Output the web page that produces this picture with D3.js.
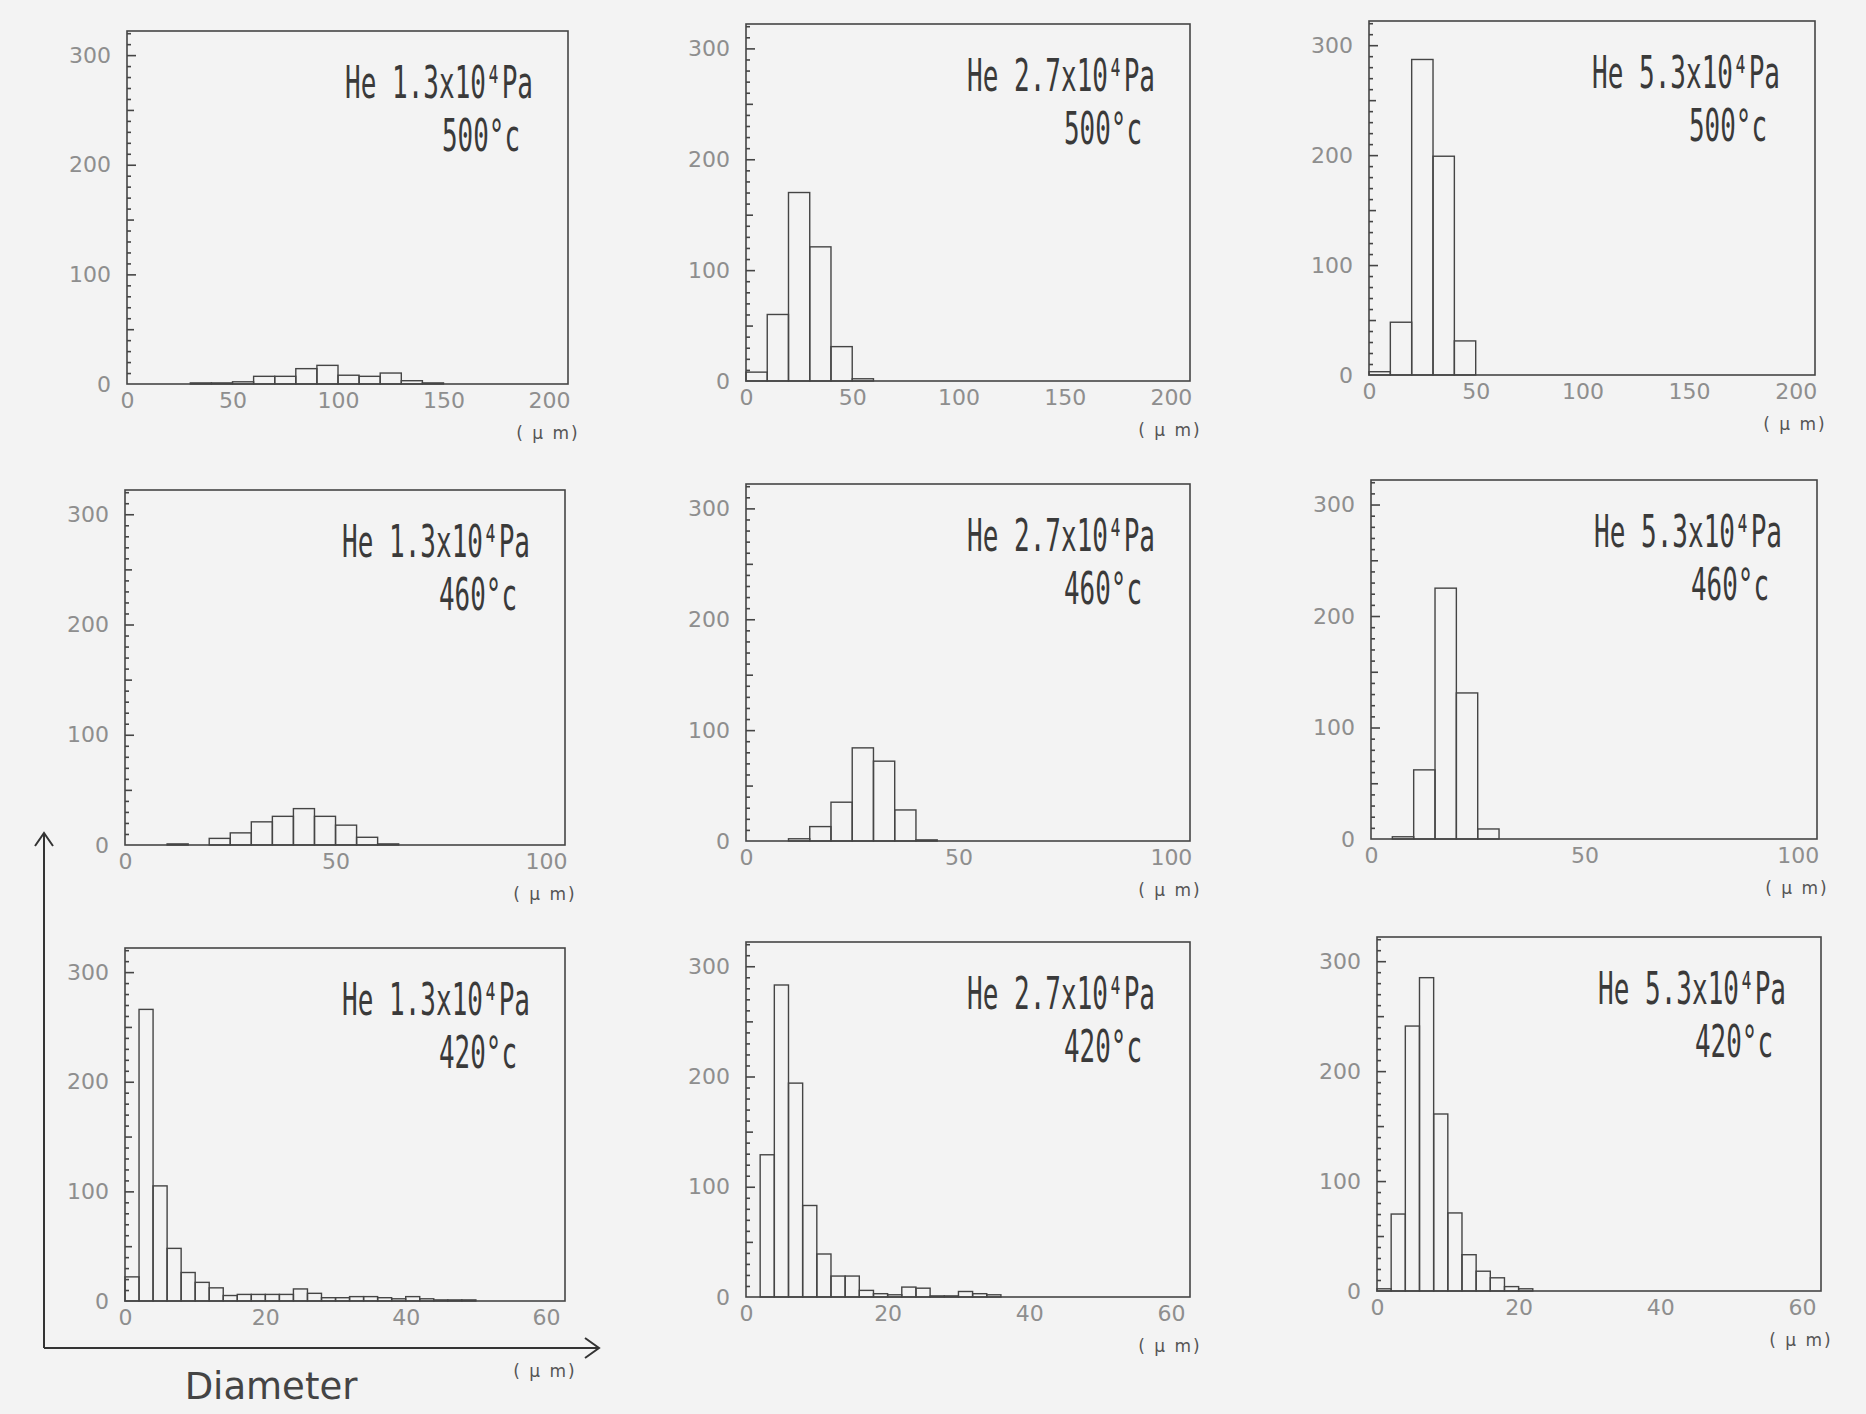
<!DOCTYPE html>
<html><head><meta charset="utf-8">
<script src="https://cdn.jsdelivr.net/npm/d3@7"></script>
<style>body{margin:0;background:#f3f3f3;} svg{display:block}</style>
</head><body><svg id="c" width="1866" height="1414"></svg>
<script>
// ---------- data ----------
const pressures = ["1.3", "2.7", "5.3"];           // columns (x10^4 Pa)
const temperatures = ["500", "460", "420"];         // rows (deg C)
const binWidths = [10, 5, 2];                       // um, per row
const xMaxes = [200, 100, 60];                      // um, per row
const xTickSets = [[0, 50, 100, 150, 200], [0, 50, 100], [0, 20, 40, 60]];
const yTickLabels = [0, 100, 200, 300];
const yMax = 322;

// counts per bin, starting at 0 um
const counts_500_13 = [0,0,0,1,1,2,7,7,14,17,8,7,10,3,1,0,0,0,0,0];
const counts_500_27 = [8,60,170,121,31,2,0,0,0,0,0,0,0,0,0,0,0,0,0,0];
const counts_500_53 = [3,48,287,199,31,0,0,0,0,0,0,0,0,0,0,0,0,0,0,0];
const counts_460_13 = [0,0,1,0,6,11,21,26,33,26,18,7,1,0,0,0,0,0,0,0];
const counts_460_27 = [0,0,2,13,35,84,72,28,1,0,0,0,0,0,0,0,0,0,0,0];
const counts_460_53 = [0,2,62,225,131,9,0,0,0,0,0,0,0,0,0,0,0,0,0,0];
const counts_420_13 = [22,266,105,48,26,17,12,5,6,6,6,6,11,7,3,3,4,4,3,2,4,2,1,1,1,0,0,0,0,0];
const counts_420_27 = [0,129,283,194,83,39,19,19,6,3,2,9,8,1,1,5,3,2,0,0,0,0,0,0,0,0,0,0,0,0];
const counts_420_53 = [2,70,241,285,161,71,33,18,12,4,2,0,0,0,0,0,0,0,0,0,0,0,0,0,0,0,0,0,0,0];

const countGrid = [
  [counts_500_13, counts_500_27, counts_500_53],
  [counts_460_13, counts_460_27, counts_460_53],
  [counts_420_13, counts_420_27, counts_420_53]
];

// ---------- layout ----------
const boxes = [
  [{L:127,T:31,W:441,H:353},{L:746,T:24,W:444,H:357},{L:1369,T:21,W:446,H:354}],
  [{L:125,T:490,W:440,H:355},{L:746,T:484,W:444,H:357},{L:1371,T:480,W:446,H:359}],
  [{L:125,T:948,W:440,H:353},{L:746,T:942,W:444,H:355},{L:1377,T:937,W:444,H:354}]
];
const inkText = "#3a3a3a", inkLine = "#454545", inkTick = "#8e8e8e";
const annFont = "DejaVu Sans Mono";

const svg = d3.select("#c");
svg.append("rect").attr("width",1866).attr("height",1414).attr("fill","#f3f3f3");

function condensed(g, x, y, width, str) {
  const t = g.append("text").attr("text-anchor", "end")
    .attr("font-family", annFont).attr("font-size", 44.5).attr("fill", inkText).text(str);
  const len = t.node().getComputedTextLength();
  t.attr("transform", `translate(${x},${y}) scale(${width / len},1)`);
  return t;
}

temperatures.forEach((temp, r) => {
  pressures.forEach((pres, c) => {
    const b = boxes[r][c];
    const counts = countGrid[r][c];
    const bw = binWidths[r];
    const g = svg.append("g").attr("transform", `translate(${b.L},${b.T})`);
    const x = d3.scaleLinear().domain([0, xMaxes[r] * 1.045]).range([0, b.W]);
    const y = d3.scaleLinear().domain([0, yMax]).range([b.H, 0]);

    // bars
    const bins = counts.map((v, i) => ({x0: i * bw, x1: (i + 1) * bw, v})).filter(d => d.v > 0);
    g.selectAll("rect.bar").data(bins).join("rect").attr("class","bar")
      .attr("x", d => x(d.x0)).attr("y", d => y(d.v))
      .attr("width", d => x(d.x1) - x(d.x0)).attr("height", d => y(0) - y(d.v))
      .attr("fill", "none").attr("stroke", inkLine).attr("stroke-width", 1.4);

    // frame
    g.append("rect").attr("width", b.W).attr("height", b.H)
      .attr("fill", "none").attr("stroke", inkLine).attr("stroke-width", 1.6);

    // y ticks (inward), minor / medium / major
    const all = d3.range(0, yMax, 10);
    const tickGroups = [
      {vals: all.filter(v => v % 50 !== 0), len: 4},
      {vals: all.filter(v => v % 50 === 0 && v % 100 !== 0), len: 7},
      {vals: all.filter(v => v % 100 === 0 && v > 0), len: 9}
    ];
    tickGroups.forEach(tg => {
      const ax = g.append("g").call(d3.axisRight(y).tickValues(tg.vals).tickSize(tg.len).tickFormat(""));
      ax.select(".domain").remove();
      ax.selectAll("line").attr("stroke", inkLine).attr("stroke-width", 1.6);
    });

    // y labels
    const yl = g.append("g").call(d3.axisLeft(y).tickValues(yTickLabels).tickSize(0).tickPadding(16));
    yl.select(".domain").remove();
    yl.selectAll("text").attr("font-family", "DejaVu Sans").attr("font-size", 22).attr("fill", inkTick);

    // x labels
    const xl = g.append("g").attr("transform", `translate(0,${b.H})`)
      .call(d3.axisBottom(x).tickValues(xTickSets[r]).tickSize(0).tickPadding(8));
    xl.select(".domain").remove();
    xl.selectAll("text").attr("font-family", "DejaVu Sans").attr("font-size", 22).attr("fill", inkTick);

    // unit
    g.append("text").attr("x", b.W - 20).attr("y", b.H + (r === 2 && c === 0 ? 76 : 55))
      .attr("text-anchor", "middle").attr("font-family", "DejaVu Sans").attr("font-size", 17)
      .attr("letter-spacing", 2).attr("fill", "#555").text("( µ m)");

    // annotation
    condensed(g, b.W - 35, 67, 188, `He ${pres}x10⁴Pa`);
    condensed(g, b.W - 48, 120, 78, `${temp}°c`);
  });
});

// big axis arrows
const arrow = svg.append("g").attr("stroke", "#333").attr("stroke-width", 2).attr("fill", "none");
arrow.append("path").attr("d", "M44,1348 L44,833 M35,846 L44,833 L53,846");
arrow.append("path").attr("d", "M44,1348 L599,1348 M585,1338 L599,1348 L585,1358");
svg.append("text").attr("x", 271).attr("y", 1399).attr("text-anchor", "middle")
  .attr("font-family", "DejaVu Sans").attr("font-size", 37).attr("fill", "#444").text("Diameter");
</script>
</body></html>
